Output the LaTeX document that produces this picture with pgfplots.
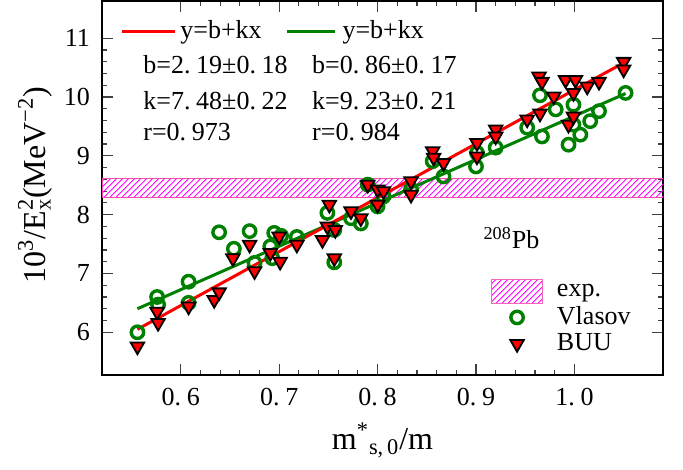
\documentclass[border=0pt]{standalone}
\usepackage{pgfplots}
\pgfplotsset{compat=1.18}
\usepackage{fontspec}
\usetikzlibrary{patterns}
\setmainfont{Liberation Serif}
\definecolor{vgreen}{RGB}{0,128,0}
\definecolor{bred}{RGB}{255,0,0}
\newcommand{\tk}{\fontsize{13}{15}\selectfont}
\newcommand{\lb}{\fontsize{16}{19}\selectfont}
\newcommand{\p}{.\hspace{0.22em}}

\pgfplotsset{
    markleg/.style={legend image code/.code={\draw[mark repeat=2, mark phase=2, ##1]
        plot coordinates {(0pt,0pt) (12.75pt,0pt) (25.5pt,0pt)};}},
    bandleg/.style={legend image code/.code={\draw[draw=magenta!60, pattern=north east lines,
        pattern color=magenta] (0pt,-6pt) rectangle (25.5pt,6pt);}},
}

% data: x = m*_{s,0}/m, y = 10^3/E_x^2
\pgfplotstableread{
x y
0.556 6.00
0.576 6.60
0.577 6.47
0.608 6.86
0.608 6.50
0.639 7.70
0.654 7.42
0.670 7.72
0.675 7.18
0.691 7.46
0.695 7.69
0.702 7.64
0.693 7.26
0.718 7.62
0.749 8.03
0.756 7.74
0.756 7.19
0.773 7.94
0.783 7.85
0.790 8.51
0.800 8.14
0.806 8.31
0.834 8.43
0.856 8.91
0.867 8.65
0.901 9.05
0.900 8.82
0.920 9.14
0.952 9.48
0.965 10.03
0.967 9.33
0.981 9.79
0.994 9.19
0.999 9.87
0.999 9.53
1.006 9.36
1.016 9.59
1.025 9.76
1.052 10.07
}\vlasov

\pgfplotstableread{
x y
0.556 5.76
0.576 6.35
0.577 6.16
0.608 6.44
0.634 6.55
0.639 6.68
0.653 7.26
0.670 7.49
0.675 7.04
0.691 7.35
0.700 7.63
0.701 7.20
0.718 7.49
0.744 7.57
0.751 8.17
0.749 7.80
0.757 7.74
0.756 7.26
0.773 8.06
0.783 7.94
0.790 8.51
0.800 8.43
0.806 8.40
0.800 8.17
0.834 8.57
0.834 8.34
0.856 9.08
0.857 8.97
0.867 8.88
0.901 9.22
0.901 8.99
0.920 9.45
0.920 9.33
0.952 9.62
0.964 10.35
0.967 10.26
0.965 9.72
0.979 10.01
0.991 10.29
1.001 10.29
0.994 9.53
0.999 9.67
0.999 10.07
1.013 10.18
1.025 10.26
1.050 10.60
1.050 10.47
}\buu

\begin{document}
\begin{tikzpicture}
\begin{axis}[
    scale only axis, width=280.5pt, height=187pt,
    xmin=0.52, xmax=1.09, ymin=5.27, ymax=11.63,
    xtick={0.6,0.7,0.8,0.9,1.0}, ytick={6,7,8,9,10,11},
    xticklabels={0\p6, 0\p7, 0\p8, 0\p9, 1\p0},
    minor x tick num=4, minor y tick num=4,
    tick align=inside,
    major tick length=5.5pt, minor tick length=2.5pt,
    tick style={black!75, line width=0.6pt},
    axis line style={line width=1.2pt},
    /pgf/number format/assume math mode=true,
    yticklabel style={/pgf/number format/.cd, fixed, precision=0},
    tick label style={font=\tk},
    xticklabel shift=3pt, yticklabel shift=2.5pt,
    xlabel={m\textsuperscript{*}\textsubscript{s,\,0}/m},
    ylabel={10\textsuperscript{3}/E\rlap{\textsuperscript{2}}\textsubscript{x}(MeV\textsuperscript{−2})},
    xlabel style={font=\lb, at={(axis description cs:0.5,-0.174)}, anchor=center},
    ylabel style={font=\lb, at={(axis description cs:-0.119,0.508)}, anchor=center},
    legend style={at={(axis description cs:0.693,0.258)}, anchor=north west,
        draw=none, fill=none, font=\tk, row sep=0pt, inner sep=0pt,
        nodes={inner xsep=7pt, inner ysep=1.5pt}},
    legend cell align=left,
]
\addplot[draw=magenta!70, pattern=north east lines, pattern color=magenta, bandleg]
    coordinates {(0.52,8.30) (1.09,8.30) (1.09,8.62) (0.52,8.62)} -- cycle;
\addlegendentry{exp.}

\addplot[only marks, mark=o, mark size=3.1pt, mark options={draw=vgreen, line width=1.7pt}, markleg]
    table[x=x, y=y] {\vlasov};
\addlegendentry{Vlasov}

\addplot[only marks, mark=triangle*, mark size=3.9pt,
    mark options={fill=bred, draw=black, line width=0.9pt, rotate=180}, markleg]
    table[x=x, y=y] {\buu};
\addlegendentry{BUU}

% linear fits
\addplot[vgreen, line width=1.5pt, forget plot] coordinates {(0.556,6.40) (1.052,10.06)};
\addplot[bred, line width=1.5pt, forget plot] coordinates {(0.556,6.05) (1.052,10.60)};

% fit annotations
\draw[bred, line width=1.5pt] (rel axis cs:0.036,0.920) -- (rel axis cs:0.130,0.920);
\draw[vgreen, line width=1.5pt] (rel axis cs:0.330,0.920) -- (rel axis cs:0.415,0.920);
\node[font=\tk, anchor=west, inner sep=0pt] at (rel axis cs:0.139,0.917) {y=b+kx};
\node[font=\tk, anchor=west, inner sep=0pt] at (rel axis cs:0.428,0.917) {y=b+kx};
\node[font=\tk, anchor=west, inner sep=0pt] at (rel axis cs:0.073,0.829) {b=2\p19±0\p18};
\node[font=\tk, anchor=west, inner sep=0pt] at (rel axis cs:0.073,0.735) {k=7\p48±0\p22};
\node[font=\tk, anchor=west, inner sep=0pt] at (rel axis cs:0.073,0.650) {r=0\p973};
\node[font=\tk, anchor=west, inner sep=0pt] at (rel axis cs:0.374,0.829) {b=0\p86±0\p17};
\node[font=\tk, anchor=west, inner sep=0pt] at (rel axis cs:0.374,0.735) {k=9\p23±0\p21};
\node[font=\tk, anchor=west, inner sep=0pt] at (rel axis cs:0.374,0.650) {r=0\p984};
\node[font=\tk, anchor=center, inner sep=0pt] at (rel axis cs:0.730,0.366) {\textsuperscript{208}Pb};

\coordinate (bl) at (rel axis cs:0,0);
\coordinate (tr) at (rel axis cs:1,1);
\end{axis}
\path ([shift={(-51pt,-47pt)}]bl) rectangle ([shift={(10pt,0.5pt)}]tr);
\end{tikzpicture}
\end{document}
